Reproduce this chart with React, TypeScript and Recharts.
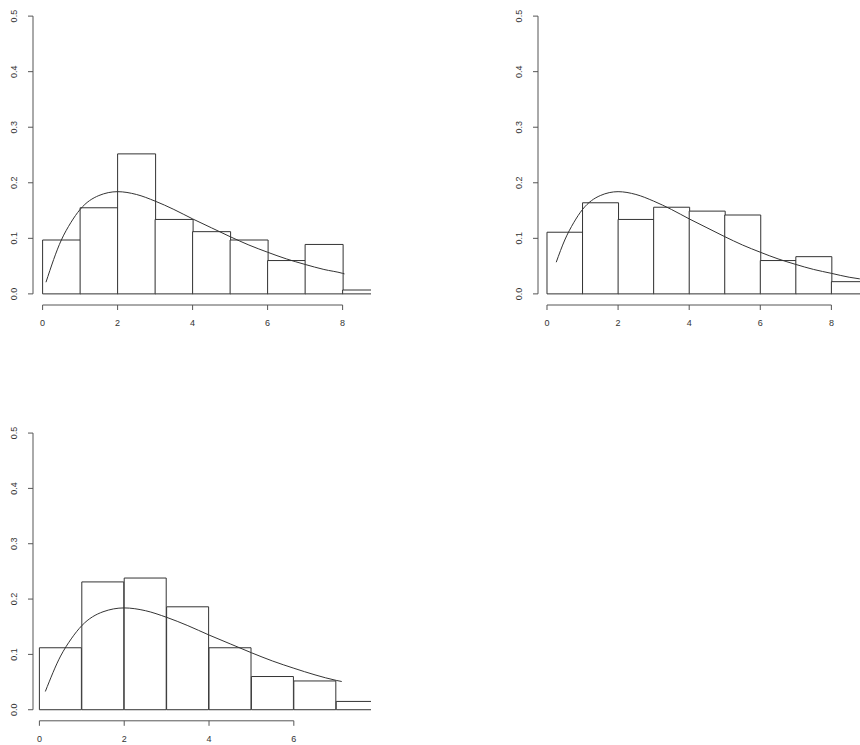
import React from "react";
import {
  ComposedChart,
  Bar,
  Line,
  XAxis,
  YAxis,
  ReferenceLine,
} from "recharts";

// histogram bins (unit width, centres)
const binMidsA = [0.5, 1.5, 2.5, 3.5, 4.5, 5.5, 6.5, 7.5, 8.5];
const densityA = [0.097, 0.155, 0.252, 0.134, 0.112, 0.097, 0.06, 0.089, 0.007];

const binMidsB = [0.5, 1.5, 2.5, 3.5, 4.5, 5.5, 6.5, 7.5, 8.5];
const densityB = [0.111, 0.164, 0.134, 0.156, 0.149, 0.142, 0.06, 0.067, 0.022];

const binMidsC = [0.5, 1.5, 2.5, 3.5, 4.5, 5.5, 6.5, 7.5];
const densityC = [0.112, 0.231, 0.238, 0.186, 0.112, 0.06, 0.052, 0.015];

// fitted density curve
const curveX = [0.5, 0.75, 1, 1.5, 2, 2.5, 3, 3.5, 4, 4.5, 5, 5.5, 6, 6.5, 7, 7.5, 8, 8.5];
const curveY = [0.097, 0.128, 0.152, 0.177, 0.184, 0.179, 0.167, 0.152, 0.135, 0.119, 0.103, 0.088, 0.075, 0.063, 0.053, 0.044, 0.037, 0.03];
const curveEndsA = [[0.09, 0.021], [8.05, 0.036]];
const curveEndsB = [[0.26, 0.057], [8.8, 0.027]];
const curveEndsC = [[0.14, 0.033], [7.13, 0.051]];

const yTicks = [0, 0.1, 0.2, 0.3, 0.4, 0.5];
const xTicksAB = [0, 2, 4, 6, 8];
const xTicksC = [0, 2, 4, 6];

const INK = "#333";
const AXIS = "#555";
const FONT = "'Liberation Sans', Arial, sans-serif";

const buildCurve = (ends: number[][]) => {
  const [start, end] = ends;
  const pts = [{ x: start[0], y: start[1] }];
  curveX.forEach((x, i) => {
    if (x > start[0] && x < end[0]) pts.push({ x, y: curveY[i] });
  });
  pts.push({ x: end[0], y: end[1] });
  return pts;
};

const YTick = (props: any) => {
  const { x, y, payload } = props;
  const cx = x - 14;
  return (
    <text
      x={cx}
      y={y}
      dy="0.35em"
      textAnchor="middle"
      transform={`rotate(-90, ${cx}, ${y})`}
      fontSize={9}
      fontFamily={FONT}
      fill={INK}
    >
      {Number(payload.value).toFixed(1)}
    </text>
  );
};

interface PanelProps {
  mids: number[];
  density: number[];
  ends: number[][];
  xTicks: number[];
  xDomain: [number, number];
  plotLeft: number;
  plotTop: number;
  plotW: number;
  plotH: number;
}

const Panel = ({ mids, density, ends, xTicks, xDomain, plotLeft, plotTop, plotW, plotH }: PanelProps) => {
  const bins = mids.map((x, i) => ({ x, d: density[i] }));
  const curve = buildCurve(ends);
  const margin = { top: 5, right: 10, bottom: 5, left: 10 };
  const yW = 30;
  const xH = 35;
  const width = plotW + margin.left + yW + margin.right;
  const height = plotH + margin.top + xH + margin.bottom;
  return (
    <div
      style={{
        position: "absolute",
        left: plotLeft - margin.left - yW,
        top: plotTop - margin.top,
        width,
        height,
      }}
    >
      <ComposedChart
        width={width}
        height={height}
        data={bins}
        margin={margin}
        barCategoryGap={0}
        barGap={0}
      >
        <XAxis
          xAxisId="bins"
          dataKey="x"
          type="number"
          domain={xDomain}
          allowDataOverflow
          ticks={xTicks}
          axisLine={false}
          tickSize={5}
          tickMargin={10}
          height={xH}
          stroke={AXIS}
          tick={{ fontSize: 9, fontFamily: FONT, fill: INK }}
        />
        <XAxis
          xAxisId="curve"
          dataKey="x"
          type="number"
          domain={xDomain}
          allowDataOverflow
          hide
        />
        <YAxis
          type="number"
          domain={[-0.02, 0.52]}
          allowDataOverflow
          ticks={yTicks}
          axisLine={false}
          tickSize={5}
          tickMargin={0}
          width={yW}
          stroke={AXIS}
          tick={<YTick />}
        />
        <Bar
          xAxisId="bins"
          dataKey="d"
          fill="#fff"
          stroke={INK}
          strokeWidth={1}
          isAnimationActive={false}
        />
        <Line
          xAxisId="curve"
          data={curve}
          dataKey="y"
          type="monotone"
          stroke={INK}
          strokeWidth={1}
          dot={false}
          activeDot={false}
          isAnimationActive={false}
        />
        <ReferenceLine
          xAxisId="bins"
          segment={[
            { x: xDomain[0], y: 0 },
            { x: xDomain[0], y: 0.5 },
          ]}
          stroke={AXIS}
          ifOverflow="visible"
        />
        <ReferenceLine
          xAxisId="bins"
          segment={[
            { x: xTicks[0], y: -0.02 },
            { x: xTicks[xTicks.length - 1], y: -0.02 },
          ]}
          stroke={AXIS}
          ifOverflow="visible"
        />
      </ComposedChart>
    </div>
  );
};

export default function App() {
  return (
    <div
      style={{
        position: "absolute",
        left: 0,
        top: 0,
        width: 860,
        height: 745,
        overflow: "hidden",
        background: "#fff",
      }}
    >
      <Panel
        mids={binMidsA}
        density={densityA}
        ends={curveEndsA}
        xTicks={xTicksAB}
        xDomain={[-0.256, 8.757]}
        plotLeft={32.7}
        plotTop={5.4}
        plotW={338}
        plotH={300}
      />
      <Panel
        mids={binMidsB}
        density={densityB}
        ends={curveEndsB}
        xTicks={xTicksAB}
        xDomain={[-0.253, 9.255]}
        plotLeft={538.3}
        plotTop={5.4}
        plotW={338}
        plotH={300}
      />
      <Panel
        mids={binMidsC}
        density={densityC}
        ends={curveEndsC}
        xTicks={xTicksC}
        xDomain={[-0.151, 7.82]}
        plotLeft={33.3}
        plotTop={421.6}
        plotW={338}
        plotH={298.8}
      />
    </div>
  );
}
